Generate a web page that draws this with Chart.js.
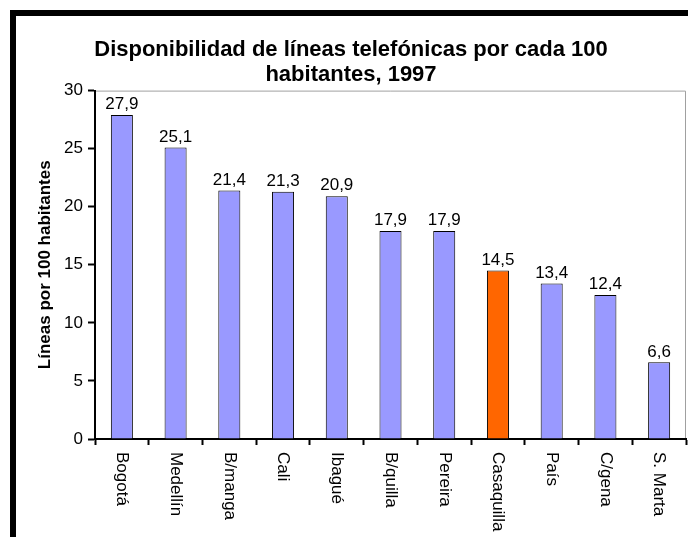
<!DOCTYPE html>
<html lang="es">
<head>
  <meta charset="UTF-8">
  <title>Disponibilidad de líneas telefónicas</title>
  <script src="https://cdn.jsdelivr.net/npm/chart.js"></script>
  <style>
    body { margin: 0; background: #fff; }
  </style>
</head>
<body>
  <canvas id="lineasChart" width="688" height="537"></canvas>

  <script>
    // Datos del gráfico
    const ciudades = ['Bogotá', 'Medellín', 'B/manga', 'Cali', 'Ibagué', 'B/quilla', 'Pereira', 'Casaquilla', 'País', 'C/gena', 'S. Marta'];
    const lineas = [27.9, 25.1, 21.4, 21.3, 20.9, 17.9, 17.9, 14.5, 13.4, 12.4, 6.6];
    const resaltada = 'Casaquilla';
    const yTicks = [0, 5, 10, 15, 20, 25, 30];

    const FONT = 'Liberation Sans, Arial, sans-serif';

    // Marco negro, borde gris del área, etiquetas de valores y de categorías
    const decoracion = {
      id: 'decoracion',
      beforeDraw(chart) {
        const ctx = chart.ctx;
        ctx.save();
        ctx.fillStyle = '#fff';
        ctx.fillRect(0, 0, chart.width, chart.height);
        ctx.fillStyle = '#000';
        ctx.fillRect(10, 10, chart.width - 10, 6);
        ctx.fillRect(10, 10, 6, chart.height - 10);
        const a = chart.chartArea;
        ctx.strokeStyle = '#a0a0a0';
        ctx.lineWidth = 1;
        ctx.beginPath();
        ctx.moveTo(a.left, a.top + 0.5);
        ctx.lineTo(a.right - 0.5, a.top + 0.5);
        ctx.lineTo(a.right - 0.5, a.bottom);
        ctx.stroke();
        ctx.restore();
      },
      afterDraw(chart) {
        const ctx = chart.ctx;
        const meta = chart.getDatasetMeta(0);
        const xScale = chart.scales.x;
        ctx.save();
        ctx.fillStyle = '#000';
        ctx.font = '17px ' + FONT;
        ctx.textAlign = 'center';
        ctx.textBaseline = 'bottom';
        meta.data.forEach((bar, i) => {
          ctx.fillText(lineas[i].toFixed(1).replace('.', ','), bar.x, bar.y - 2);
        });
        ctx.textAlign = 'left';
        ctx.textBaseline = 'middle';
        ciudades.forEach((c, i) => {
          const x = xScale.getPixelForValue(i);
          ctx.save();
          ctx.translate(x, chart.chartArea.bottom + 13);
          ctx.rotate(Math.PI / 2);
          ctx.fillText(c, 0, 0);
          ctx.restore();
        });
        ctx.restore();
      }
    };

    new Chart(document.getElementById('lineasChart'), {
      type: 'bar',
      data: {
        labels: ciudades,
        datasets: [{
          data: lineas,
          backgroundColor: ciudades.map(c => c === resaltada ? '#FF6600' : '#9999FF'),
          borderColor: '#000',
          borderWidth: 1,
          categoryPercentage: 1,
          barPercentage: 0.41
        }]
      },
      options: {
        responsive: false,
        animation: false,
        layout: { padding: { left: 16, right: 2, top: 0, bottom: 0 } },
        plugins: {
          legend: { display: false },
          tooltip: { enabled: false },
          title: {
            display: true,
            text: ['Disponibilidad de líneas telefónicas por cada 100', 'habitantes, 1997'],
            color: '#000',
            font: { family: FONT, size: 22, weight: 'bold', lineHeight: 1.15 },
            padding: { top: 37, bottom: 3 }
          }
        },
        scales: {
          x: {
            grid: { offset: true, drawOnChartArea: false, color: '#000', tickLength: 6, tickWidth: 2 },
            border: { color: '#000', width: 2 },
            ticks: { display: false },
            afterFit(scale) { scale.height = 98; }
          },
          y: {
            min: 0,
            max: 30,
            afterBuildTicks(scale) { scale.ticks = yTicks.map(v => ({ value: v })); },
            grid: { drawOnChartArea: false, color: '#000', tickLength: 7, tickWidth: 2 },
            border: { color: '#000', width: 2 },
            ticks: { color: '#000', padding: 5, font: { family: FONT, size: 17 } },
            title: {
              display: true,
              text: 'Líneas por 100 habitantes',
              color: '#000',
              font: { family: FONT, size: 17, weight: 'bold' },
              padding: { top: 19, bottom: 0 }
            },
            afterFit(scale) { scale.width = 79; }
          }
        }
      },
      plugins: [decoracion]
    });
  </script>
</body>
</html>
